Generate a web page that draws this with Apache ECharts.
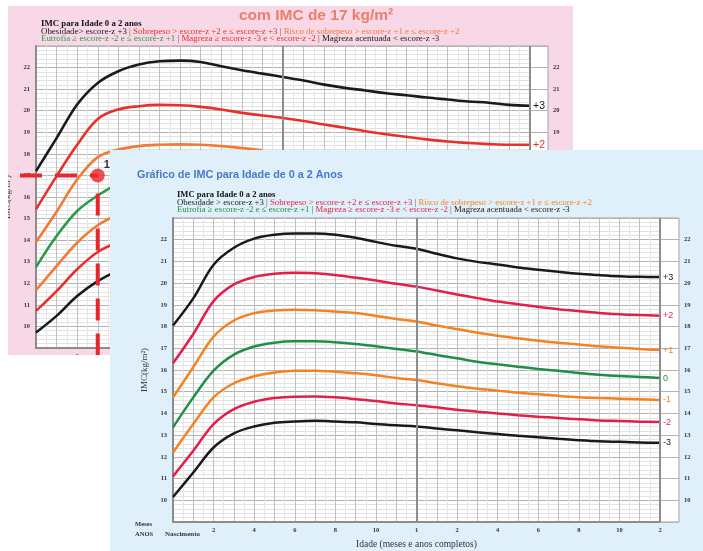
<!DOCTYPE html>
<html>
<head>
<meta charset="utf-8">
<script src="https://cdn.jsdelivr.net/npm/echarts@6/dist/echarts.min.js"></script>
<style>
  body { margin: 0; width: 703px; height: 551px; background: #fff; position: relative; overflow: hidden; }
  #imc_back_chart { position: absolute; left: 8px; top: 6px; width: 565px; height: 349px; background: #f8d8e6; }
  #imc_front_chart { position: absolute; left: 110px; top: 150px; width: 593px; height: 401px; background: #e0f0fa; }
</style>
</head>
<body>
<div id="imc_back_chart"></div>
<div id="imc_front_chart"></div>
<script>
// meses (0 = nascimento, 24 = 2 anos)
const months = [0, 1, 2, 3, 4, 5, 6, 7, 8, 9, 10, 11, 12, 13, 14, 15, 16, 17, 18, 19, 20, 21, 22, 23, 24];
const xLabelMonths = [2, 4, 6, 8, 10, 12, 14, 16, 18, 20, 22, 24];
const xLabelTexts = ['2', '4', '6', '8', '10', '1', '2', '4', '6', '8', '10', '2'];
const yLabelValues = [10, 11, 12, 13, 14, 15, 16, 17, 18, 19, 20, 21, 22];
const yearLines = [12, 24];
const zLabels = ['+3', '+2', '+1', '0', '-1', '-2', '-3'];

// grafico da frente (escore-z)
const frontZp3 = [18.05, 19.3, 20.85, 21.63, 22.05, 22.23, 22.29, 22.29, 22.23, 22.09, 21.9, 21.72, 21.58, 21.35, 21.14, 20.98, 20.86, 20.72, 20.62, 20.52, 20.43, 20.37, 20.32, 20.29, 20.28];
const frontZp2 = [16.31, 17.66, 19.17, 19.94, 20.28, 20.43, 20.48, 20.46, 20.37, 20.25, 20.12, 19.97, 19.84, 19.66, 19.48, 19.31, 19.15, 19.03, 18.91, 18.8, 18.71, 18.63, 18.57, 18.53, 18.5];
const frontZp1 = [14.74, 16.13, 17.54, 18.28, 18.62, 18.74, 18.77, 18.75, 18.69, 18.62, 18.49, 18.35, 18.23, 18.05, 17.88, 17.72, 17.58, 17.46, 17.35, 17.25, 17.17, 17.09, 17.03, 16.97, 16.92];
const frontZ0 = [13.36, 14.74, 15.97, 16.71, 17.08, 17.26, 17.32, 17.32, 17.28, 17.2, 17.09, 16.97, 16.85, 16.69, 16.54, 16.38, 16.26, 16.15, 16.05, 15.96, 15.86, 15.78, 15.72, 15.68, 15.63];
const frontZm1 = [12.2, 13.51, 14.74, 15.39, 15.71, 15.89, 15.97, 15.97, 15.92, 15.85, 15.76, 15.63, 15.54, 15.39, 15.25, 15.14, 15.05, 14.95, 14.88, 14.81, 14.75, 14.71, 14.68, 14.65, 14.62];
const frontZm2 = [11.1, 12.28, 13.51, 14.2, 14.54, 14.71, 14.77, 14.78, 14.74, 14.66, 14.57, 14.46, 14.38, 14.28, 14.17, 14.08, 14.0, 13.92, 13.85, 13.79, 13.73, 13.68, 13.65, 13.62, 13.6];
const frontZm3 = [10.15, 11.28, 12.43, 13.08, 13.4, 13.57, 13.63, 13.66, 13.63, 13.59, 13.51, 13.45, 13.4, 13.31, 13.22, 13.13, 13.05, 12.97, 12.9, 12.83, 12.77, 12.72, 12.69, 12.66, 12.65];

// grafico de tras (parte visivel)
const backZp3 = [17.2, 18.73, 20.29, 21.29, 21.83, 22.14, 22.29, 22.32, 22.26, 22.06, 21.88, 21.72, 21.56, 21.4, 21.21, 21.06, 20.94, 20.81, 20.72, 20.61, 20.52, 20.43, 20.37, 20.27, 20.23];
const backZp2 = [15.43, 16.97, 18.42, 19.62, 20.06, 20.21, 20.27, 20.25, 20.18, 20.06, 19.9, 19.78, 19.66, 19.52, 19.36, 19.21, 19.05, 18.91, 18.79, 18.67, 18.57, 18.5, 18.45, 18.42, 18.42];
const backZp1 = [13.91, 15.32, 16.81, 17.85, 18.2, 18.36, 18.42, 18.44, 18.42, 18.36, 18.27, 18.17];
const backZ0 = [12.75, 14.19, 15.35, 16.07, 16.62];
const backZm1 = [11.68, 12.8, 13.88, 14.69, 15.2];
const backZm2 = [10.72, 11.64, 12.65, 13.45, 13.9];
const backZm3 = [9.72, 10.49, 11.41, 12.1, 12.6];
const markMonth = 3;
const markBmi = 17;

const serif = 'Liberation Serif';
const frontColors = ['#1a1a1a', '#e21f4c', '#f5821f', '#1f8f45', '#f5821f', '#e21f4c', '#1a1a1a'];
const backColors = ['#1a1a1a', '#e8302a', '#f27a35', '#2e9a48', '#f27a35', '#e8302a', '#1a1a1a'];

function toPoints(values) {
  return values.map((v, i) => [months[i], v]);
}

function xLabelFormatter(v) {
  const idx = xLabelMonths.indexOf(v);
  return idx >= 0 ? xLabelTexts[idx] : '';
}

function yLabelFormatter(v) {
  return yLabelValues.indexOf(v) >= 0 ? String(v) : '';
}

function legendTitles(left, top1, colors, sep, size) {
  const st = (c) => ({ color: c, fontFamily: serif, fontSize: size, fontWeight: 'normal' });
  return [
    {
      text: '{k|Obesidade' + sep + 'escore-z +3 }{s|| }{r|Sobrepeso > escore-z +2 e ≤ escore-z +3 }{s|| }{o|Risco de sobrepeso > escore-z +1 e ≤ escore-z +2}',
      left: left, top: top1,
      textStyle: { fontWeight: 'normal', rich: { k: st(colors[0]), r: st(colors[1]), o: st(colors[2]), s: st('#555') } }
    },
    {
      text: '{g|Eutrofia ≥ escore-z -2 e ≤ escore-z +1 }{s|| }{r|Magreza ≥ escore-z -3 e < escore-z -2 }{s|| }{k|Magreza acentuada < escore-z -3}',
      left: left, top: top1 + 7.5,
      textStyle: { fontWeight: 'normal', rich: { g: st(colors[3]), r: st(colors[1]), k: st(colors[0]), s: st('#555') } }
    }
  ];
}

function buildAxes(gridMain, gridCol, yNameGap, withXName) {
  const gridStyle = { show: true, backgroundColor: '#fff', borderColor: '#a3a3a3', borderWidth: 1, outerBoundsMode: 'none', containLabel: false };
  const labelStyle = { color: '#333', fontFamily: serif, fontSize: 6.5, fontWeight: 'bold' };
  return {
    grid: [Object.assign({}, gridMain, gridStyle), Object.assign({}, gridCol, gridStyle)],
    xAxis: [
      {
        gridIndex: 0, type: 'value', min: 0, max: 24, interval: 1,
        name: withXName ? 'Idade (meses e anos completos)' : '',
        nameLocation: 'middle', nameGap: 17,
        nameTextStyle: { color: '#333', fontFamily: serif, fontSize: 9.5 },
        axisLine: { show: true, lineStyle: { color: '#8c8c8c', width: 2 } },
        axisTick: { show: false },
        axisLabel: { formatter: xLabelFormatter, margin: 5, ...labelStyle },
        splitLine: { show: true, lineStyle: { color: '#bfbfbf', width: 1 } },
        minorTick: { show: false, splitNumber: 2 },
        minorSplitLine: { show: true, lineStyle: { color: '#e6e6e6', width: 1 } }
      },
      { gridIndex: 1, type: 'value', min: 0, max: 1, show: false }
    ],
    yAxis: [
      {
        gridIndex: 0, type: 'value', min: 9, max: 23, interval: 1,
        name: 'IMC(kg/m²)', nameLocation: 'middle', nameGap: yNameGap,
        nameTextStyle: { color: '#333', fontFamily: serif, fontSize: 9 },
        axisLine: { show: true, lineStyle: { color: '#8c8c8c', width: 2 } },
        axisTick: { show: false },
        axisLabel: { formatter: yLabelFormatter, margin: 6, ...labelStyle },
        splitLine: { show: true, lineStyle: { color: '#b3b3b3', width: 1 } },
        minorTick: { show: false, splitNumber: 5 },
        minorSplitLine: { show: true, lineStyle: { color: '#e3e3e3', width: 1 } }
      },
      {
        gridIndex: 1, type: 'value', min: 9, max: 23, interval: 1, position: 'right',
        axisLine: { show: false },
        axisTick: { show: false },
        axisLabel: { formatter: yLabelFormatter, margin: 5, ...labelStyle },
        splitLine: { show: true, lineStyle: { color: '#b3b3b3', width: 1 } }
      }
    ]
  };
}

function curveSeries(values, color, label, width) {
  return {
    type: 'line', xAxisIndex: 0, yAxisIndex: 0,
    data: toPoints(values),
    smooth: 0.35, showSymbol: false, silent: true,
    lineStyle: { color: color, width: width },
    endLabel: {
      show: !!label, formatter: label || '', color: color, distance: 3,
      fontFamily: 'Liberation Sans', fontSize: 9
    },
    z: 3
  };
}

function yearMarkLine() {
  return {
    silent: true, symbol: 'none', label: { show: false },
    lineStyle: { color: '#8c8c8c', width: 2, type: 'solid' },
    data: yearLines.map(m => ({ xAxis: m }))
  };
}

// ---------- grafico de tras ----------
const backChart = echarts.init(document.getElementById('imc_back_chart'));
const backSeriesValues = [backZp3, backZp2, backZp1, backZ0, backZm1, backZm2, backZm3];
const backSeries = backSeriesValues.map((vals, i) =>
  curveSeries(vals, backColors[i], i < 2 ? zLabels[i] : '', 2.6));
backSeries[0].endLabel.fontSize = 10.5;
backSeries[1].endLabel.fontSize = 10.5;
backSeries[0].markLine = yearMarkLine();
backSeries.push({
  type: 'scatter', xAxisIndex: 0, yAxisIndex: 0,
  data: [[markMonth, markBmi]],
  symbolSize: 14, itemStyle: { color: '#e8262b' }, silent: true, z: 6
});

backChart.setOption({
  animation: false,
  title: [
    {
      text: 'com IMC de 17 kg/m²', left: 226, top: -3,
      textStyle: { color: '#e8806c', fontFamily: 'Liberation Sans', fontSize: 15.5, fontWeight: 'bold' }
    },
    {
      text: 'IMC para Idade 0 a 2 anos', left: 28, top: 8,
      textStyle: { color: '#111', fontFamily: serif, fontSize: 8.8, fontWeight: 'bold' }
    }
  ].concat(legendTitles(28, 16, backColors, '> ', 8.9)),
  ...buildAxes({ left: 28, top: 40, width: 494, height: 302 }, { left: 522, top: 40, width: 18, height: 302 }, 20, false),
  series: backSeries
});

// linhas tracejadas de leitura (IMC 17 aos 3 meses)
const dotPx = backChart.convertToPixel({ gridIndex: 0 }, [markMonth, markBmi]);
const axisPx = backChart.convertToPixel({ gridIndex: 0 }, [0, markBmi]);
const dashStyle = { stroke: '#e8262b', lineWidth: 4, lineDash: [22, 13] };
backChart.setOption({
  graphic: [
    { type: 'line', z: 5, shape: { x1: axisPx[0] - 16, y1: dotPx[1], x2: dotPx[0], y2: dotPx[1] }, style: dashStyle },
    { type: 'line', z: 5, shape: { x1: dotPx[0], y1: dotPx[1] + 18, x2: dotPx[0], y2: 360 }, style: dashStyle },
    {
      type: 'text', z: 7, left: dotPx[0] + 6, top: dotPx[1] - 16,
      style: { text: '17', fill: '#333', font: 'bold 11px Liberation Sans' }
    }
  ]
});

// ---------- grafico da frente ----------
const frontChart = echarts.init(document.getElementById('imc_front_chart'));
const frontSeriesValues = [frontZp3, frontZp2, frontZp1, frontZ0, frontZm1, frontZm2, frontZm3];
const frontSeries = frontSeriesValues.map((vals, i) => curveSeries(vals, frontColors[i], zLabels[i], 2.5));
frontSeries[0].markLine = yearMarkLine();

frontChart.setOption({
  animation: false,
  title: [
    {
      text: 'Gráfico de IMC para Idade de 0 a 2 Anos', left: 22, top: 15,
      textStyle: { color: '#4a78c8', fontFamily: 'Liberation Sans', fontSize: 10.8, fontWeight: 'bold' }
    },
    {
      text: 'IMC para Idade 0 a 2 anos', left: 62, top: 35,
      textStyle: { color: '#111', fontFamily: serif, fontSize: 8.6, fontWeight: 'bold' }
    }
  ].concat(legendTitles(62, 43, frontColors, ' > ', 8.75)),
  ...buildAxes({ left: 63, top: 68, width: 487, height: 304 }, { left: 550, top: 68, width: 19, height: 304 }, 21, true),
  graphic: [
    { type: 'text', left: 25, top: 371, style: { text: 'Meses', fill: '#333', font: 'bold 6.5px Liberation Serif' } },
    { type: 'text', left: 25, top: 381, style: { text: 'ANOS', fill: '#333', font: 'bold 6.5px Liberation Serif' } },
    { type: 'text', left: 55, top: 381, style: { text: 'Nascimento', fill: '#333', font: 'bold 7px Liberation Serif' } }
  ],
  series: frontSeries
});
</script>
</body>
</html>
